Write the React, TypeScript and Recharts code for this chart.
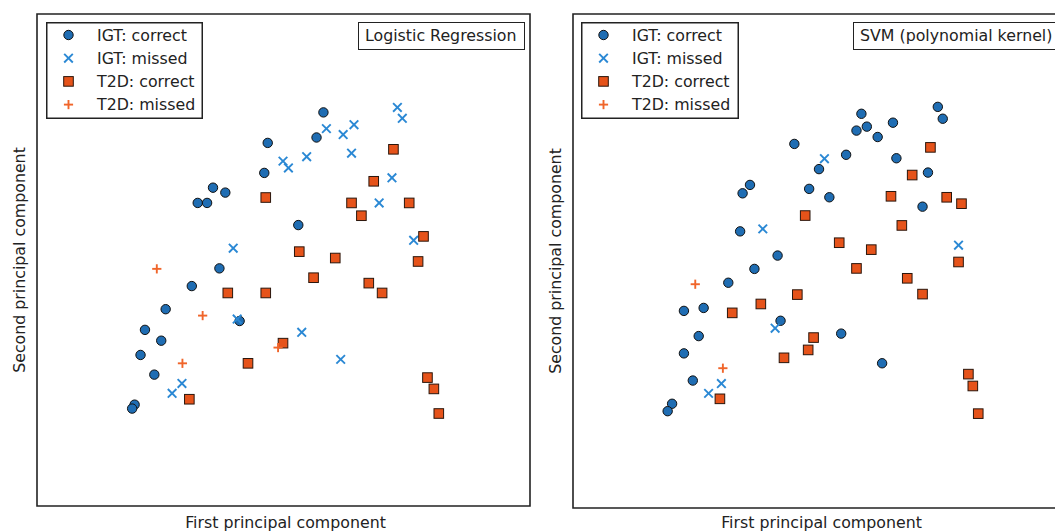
import React from 'react';
import { ScatterChart, Scatter, XAxis, YAxis, ReferenceArea, Legend } from 'recharts';

// Logistic Regression panel (PCA coords scaled to 0..100)
const lrIgtCorrect = [
  { x: 58.1, y: 80.0 }, { x: 56.7, y: 74.9 }, { x: 46.8, y: 73.8 }, { x: 46.1, y: 67.7 },
  { x: 35.7, y: 64.7 }, { x: 38.2, y: 63.7 }, { x: 32.6, y: 61.6 }, { x: 34.5, y: 61.6 },
  { x: 53.0, y: 57.1 }, { x: 37.0, y: 48.3 }, { x: 31.4, y: 44.7 }, { x: 26.1, y: 40.0 },
  { x: 21.9, y: 35.8 }, { x: 25.2, y: 33.6 }, { x: 21.0, y: 30.7 }, { x: 23.8, y: 26.7 },
  { x: 19.8, y: 20.6 }, { x: 19.3, y: 19.8 }, { x: 41.1, y: 37.6 },
];
const lrIgtMissed = [
  { x: 73.1, y: 81.0 }, { x: 74.1, y: 78.8 }, { x: 58.7, y: 76.7 }, { x: 62.1, y: 75.5 },
  { x: 64.3, y: 77.5 }, { x: 63.8, y: 71.7 }, { x: 54.7, y: 71.0 }, { x: 49.9, y: 70.1 },
  { x: 51.0, y: 68.7 }, { x: 72.0, y: 66.7 }, { x: 69.4, y: 61.6 }, { x: 76.4, y: 54.0 },
  { x: 39.8, y: 52.4 }, { x: 40.6, y: 38.0 }, { x: 53.7, y: 35.3 }, { x: 61.6, y: 29.8 },
  { x: 29.4, y: 24.9 }, { x: 27.4, y: 22.9 },
];
const lrT2dCorrect = [
  { x: 72.3, y: 72.5 }, { x: 68.3, y: 66.0 }, { x: 63.8, y: 61.6 }, { x: 65.8, y: 59.0 },
  { x: 75.5, y: 61.6 }, { x: 46.4, y: 62.7 }, { x: 78.4, y: 54.8 }, { x: 77.3, y: 49.7 },
  { x: 53.2, y: 51.7 }, { x: 60.5, y: 50.4 }, { x: 56.1, y: 46.4 }, { x: 67.3, y: 45.3 },
  { x: 70.0, y: 43.3 }, { x: 38.7, y: 43.3 }, { x: 46.4, y: 43.3 }, { x: 49.9, y: 33.1 },
  { x: 42.8, y: 29.0 }, { x: 30.9, y: 21.7 }, { x: 79.2, y: 26.1 }, { x: 80.5, y: 23.8 },
  { x: 81.5, y: 18.8 },
];
const lrT2dMissed = [
  { x: 24.3, y: 48.2 }, { x: 33.6, y: 38.7 }, { x: 29.5, y: 29.0 }, { x: 48.9, y: 32.2 },
];

// SVM (polynomial kernel) panel
const svmIgtCorrect = [
  { x: 58.5, y: 79.8 }, { x: 74.0, y: 81.2 }, { x: 75.0, y: 78.8 }, { x: 57.5, y: 76.4 },
  { x: 59.6, y: 77.2 }, { x: 61.8, y: 75.1 }, { x: 64.9, y: 78.0 }, { x: 44.9, y: 73.7 },
  { x: 55.4, y: 71.5 }, { x: 65.6, y: 70.8 }, { x: 49.9, y: 68.6 }, { x: 72.0, y: 67.9 },
  { x: 35.9, y: 65.4 }, { x: 34.4, y: 63.7 }, { x: 47.9, y: 64.6 }, { x: 52.0, y: 62.9 },
  { x: 70.9, y: 61.0 }, { x: 33.9, y: 56.0 }, { x: 41.5, y: 51.1 }, { x: 36.8, y: 48.4 },
  { x: 31.5, y: 45.6 }, { x: 22.5, y: 39.9 }, { x: 26.5, y: 40.5 }, { x: 25.5, y: 34.8 },
  { x: 22.5, y: 31.3 }, { x: 24.3, y: 25.8 }, { x: 20.1, y: 21.1 }, { x: 19.2, y: 19.6 },
  { x: 42.1, y: 37.9 }, { x: 54.4, y: 35.3 }, { x: 62.7, y: 29.3 },
];
const svmIgtMissed = [
  { x: 51.0, y: 70.7 }, { x: 38.5, y: 56.5 }, { x: 78.2, y: 53.2 }, { x: 41.0, y: 36.4 },
  { x: 30.1, y: 25.2 }, { x: 27.5, y: 23.2 },
];
const svmT2dCorrect = [
  { x: 72.5, y: 73.0 }, { x: 68.8, y: 67.4 }, { x: 64.5, y: 63.1 }, { x: 75.8, y: 62.9 },
  { x: 78.8, y: 61.6 }, { x: 47.1, y: 59.2 }, { x: 66.7, y: 57.2 }, { x: 54.0, y: 53.7 },
  { x: 60.5, y: 52.3 }, { x: 57.5, y: 48.5 }, { x: 78.2, y: 49.8 }, { x: 67.8, y: 46.5 },
  { x: 70.9, y: 43.3 }, { x: 45.5, y: 43.2 }, { x: 38.1, y: 41.3 }, { x: 32.3, y: 39.5 },
  { x: 48.8, y: 34.5 }, { x: 47.7, y: 32.0 }, { x: 42.8, y: 30.4 }, { x: 29.8, y: 22.1 },
  { x: 80.2, y: 27.1 }, { x: 81.1, y: 24.7 }, { x: 82.2, y: 19.1 },
];
const svmT2dMissed = [
  { x: 24.8, y: 45.3 }, { x: 30.4, y: 28.3 },
];

const seriesNames = ['IGT: correct', 'IGT: missed', 'T2D: correct', 'T2D: missed'];

const FONT = '"DejaVu Sans", sans-serif';
const FS = 15.8;
const INK = '#222';
const BLUE_DOT = '#1f6db3';
const BLUE_X = '#2a88d4';
const ORANGE_SQ = '#e6531a';
const ORANGE_PLUS = '#f0652a';

// marker shapes (matplotlib style)
const Dot = ({ cx, cy }: any) => (
  <circle cx={cx} cy={cy} r={4.7} fill={BLUE_DOT} stroke="#111" strokeWidth={1} />
);
const Cross = ({ cx, cy }: any) => (
  <g stroke={BLUE_X} strokeWidth={1.9}>
    <line x1={cx - 4.3} y1={cy - 4.3} x2={cx + 4.3} y2={cy + 4.3} />
    <line x1={cx - 4.3} y1={cy + 4.3} x2={cx + 4.3} y2={cy - 4.3} />
  </g>
);
const Square = ({ cx, cy }: any) => (
  <rect x={cx - 4.8} y={cy - 4.8} width={9.6} height={9.6} fill={ORANGE_SQ} stroke="#2a160c" strokeWidth={1} />
);
const Plus = ({ cx, cy }: any) => (
  <g stroke={ORANGE_PLUS} strokeWidth={1.9}>
    <line x1={cx - 4.6} y1={cy} x2={cx + 4.6} y2={cy} />
    <line x1={cx} y1={cy - 4.6} x2={cx} y2={cy + 4.6} />
  </g>
);
const shapes = [Dot, Cross, Square, Plus];

function LegendBox({ width }: { width: number }) {
  return (
    <svg width={width} height={97} style={{ display: 'block' }}>
      <rect x={0.75} y={0.75} width={width - 1.5} height={95.5} fill="#fff" stroke={INK} strokeWidth={1.5} />
      {seriesNames.map((name, i) => {
        const Shape = shapes[i];
        const cy = 13 + i * 23.2;
        return (
          <g key={name}>
            <Shape cx={22.5} cy={cy} />
            <text x={51} y={cy} dy="0.36em" fontSize={FS} fill={INK} fontFamily={FONT}>{name}</text>
          </g>
        );
      })}
    </svg>
  );
}

const YLabel = ({ viewBox }: any) => {
  const { x, y, height } = viewBox;
  return (
    <text
      transform={`translate(${x + 19},${y + height / 2}) rotate(-90)`}
      textAnchor="middle"
      dy="0.36em"
      fontSize={FS}
      fill={INK}
      fontFamily={FONT}
    >
      Second principal component
    </text>
  );
};

// baseline fixed near the bottom of the chart so descenders stay visible
const XLabel = ({ viewBox }: any) => {
  const { x, width } = viewBox;
  return (
    <text x={x + width / 2 + 2} y={527.5} textAnchor="middle" fontSize={FS} fill={INK} fontFamily={FONT}>
      First principal component
    </text>
  );
};

function Panel({ left, xAxisHeight, title, titleLeft, titleWidth, legendLeft, legendWidth, data }: any) {
  return (
    <div style={{ position: 'absolute', left, top: 0 }}>
      <ScatterChart width={545} height={532} margin={{ top: 14, right: 15, bottom: 0, left: 0 }}>
        <XAxis type="number" dataKey="x" domain={[0, 100]} tick={false} tickLine={false} axisLine={false}
          height={xAxisHeight} allowDataOverflow label={<XLabel />} />
        <YAxis type="number" dataKey="y" domain={[0, 100]} tick={false} tickLine={false} axisLine={false}
          width={37} allowDataOverflow label={<YLabel />} />
        <ReferenceArea x1={0} x2={100} y1={0} y2={100} fill="none" stroke={INK} strokeWidth={1.6} ifOverflow="visible" />
        {data.map((pts: any, i: number) => (
          <Scatter key={seriesNames[i]} name={seriesNames[i]} data={pts} shape={shapes[i]} isAnimationActive={false} />
        ))}
        <Legend layout="vertical" align="center" verticalAlign="middle"
          wrapperStyle={{ top: 22, left: legendLeft, width: legendWidth, margin: 0 }}
          content={() => <LegendBox width={legendWidth} />} />
      </ScatterChart>
      <div style={{
        position: 'absolute', top: 22, left: titleLeft, width: titleWidth, height: 28, boxSizing: 'border-box',
        border: `1.5px solid ${INK}`, background: '#fff', fontFamily: FONT, fontSize: FS, color: INK,
        lineHeight: '25px', paddingLeft: 6, whiteSpace: 'nowrap',
      }}>
        {title}
      </div>
    </div>
  );
}

export default function App() {
  return (
    <div style={{ position: 'absolute', left: 0, top: 0, width: 1055, height: 532, overflow: 'hidden', background: '#fff' }}>
      <Panel left={0} xAxisHeight={26} title="Logistic Regression" titleLeft={358} titleWidth={167}
        legendLeft={46} legendWidth={157}
        data={[lrIgtCorrect, lrIgtMissed, lrT2dCorrect, lrT2dMissed]} />
      <Panel left={536} xAxisHeight={24} title="SVM (polynomial kernel)" titleLeft={317} titleWidth={215}
        legendLeft={45} legendWidth={158}
        data={[svmIgtCorrect, svmIgtMissed, svmT2dCorrect, svmT2dMissed]} />
    </div>
  );
}
